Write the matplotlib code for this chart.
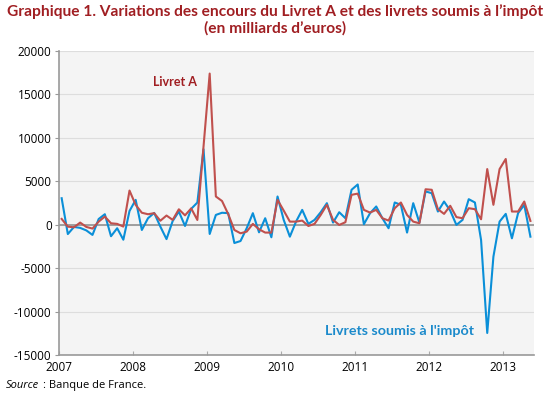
'''
Variations des encours du Livret A et des livrets soumis a l'impot
'''

import numpy as np
import matplotlib.pyplot as plt

# monthly values, Jan 2007 -> May 2013
livret_a = [690, -200, -270, 270, -230, -420, 380, 960, 190, 120,
            -190, 3950, 2300, 1400, 1230, 1350, 480, 1080, 580, 1800,
            1100, 1900, 570, 9000, 17400, 3270, 2750, 1250, -580, -960,
            -770, 120, -500, -880, -880, 2880, 1650, 380, 380, 500,
            -120, 120, 1150, 2310, 580, 0, 310, 3460, 3600, 1730,
            1420, 1730, 770, 500, 1920, 2580, 1150, 380, 190, 4100,
            4040, 1810, 1270, 2200, 900, 770, 1920, 1810, 650, 6420,
            2310, 6420, 7580, 1540, 1540, 2690, 460]
livrets_soumis = [3070, -1050, -230, -340, -630, -1150, 680, 1230, -1300, -380,
                  -1700, 1600, 2880, -580, 770, 1380, -190, -1630, 450, 1540,
                  -120, 1850, 2570, 8700, -1040, 1150, 1400, 1350, -2080, -1850,
                  -380, 1350, -850, 770, -1420, 3270, 580, -1350, 380, 1730,
                  120, 580, 1460, 2500, 270, 1460, 770, 4040, 4650, 80,
                  1350, 2120, 770, -380, 2580, 2310, -880, 2500, 270, 3850,
                  3650, 1540, 2690, 1640, 0, 580, 2960, 2580, -1730, -12420,
                  -3650, 380, 1270, -1540, 1350, 2310, -1350]
years = ['2007', '2008', '2009', '2010', '2011', '2012', '2013']
yticks = [-15000, -10000, -5000, 0, 5000, 10000, 15000, 20000]

RED = '#C0504D'
BLUE = '#0A8FD8'
TITLE_RED = '#A01E22'

plt.rcParams['font.family'] = ['Open Sans', 'DejaVu Sans']

fig = plt.figure(figsize=(5.5, 3.98), dpi=100)
ax = fig.add_axes([0.1065, 0.107, 0.8635, 0.765])
ax.set_facecolor('#F4F4F4')

x = np.arange(len(livret_a))
ax.plot(x, livrets_soumis, color=BLUE, lw=1.5)
ax.plot(x, livret_a, color=RED, lw=1.5)

ax.set_xlim(-0.5, len(x) - 0.5)
ax.set_ylim(-15000, 20000)
ax.set_yticks(yticks)
ax.set_yticklabels([str(v) for v in yticks], fontsize=8.5)
ax.set_xticks([12 * k - 0.5 for k in range(len(years))])
ax.set_xticklabels(years, fontsize=8.5)
ax.tick_params(axis='x', direction='in', length=3, color='#AAAAAA', pad=4)
ax.tick_params(axis='y', direction='out', length=3, color='#999999', pad=2)

ax.grid(axis='y', color='#DDDDDD', lw=0.8)
ax.set_axisbelow(True)
ax.axhline(0, color='#999999', lw=1.3, zorder=1.5)
for s in ['top', 'right']:
  ax.spines[s].set_visible(False)
for s in ['left', 'bottom']:
  ax.spines[s].set_color('#999999')
  ax.spines[s].set_linewidth(1.2)

ax.text(14.8, 16000, 'Livret A', color=TITLE_RED, fontsize=9,
        fontweight='bold', family='Lato')
ax.text(42.7, -12600, "Livrets soumis à l'impôt", color='#1B8ACB',
        fontsize=10.3, fontweight='bold', family='Lato')

fig.text(0.5, 0.97, "Graphique 1. Variations des encours du Livret A et des livrets soumis à l’impôt",
         ha='center', va='center', color=TITLE_RED, fontsize=11.2,
         fontweight='bold', family='Lato')
fig.text(0.5, 0.93, "(en milliards d’euros)", ha='center', va='center',
         color=TITLE_RED, fontsize=11.2, fontweight='bold', family='Lato')
fig.text(0.01, 0.025, 'Source', fontstyle='italic', fontsize=8)
fig.text(0.079, 0.025, ': Banque de France.', fontsize=8)

fig.savefig('out.png', dpi=100)
